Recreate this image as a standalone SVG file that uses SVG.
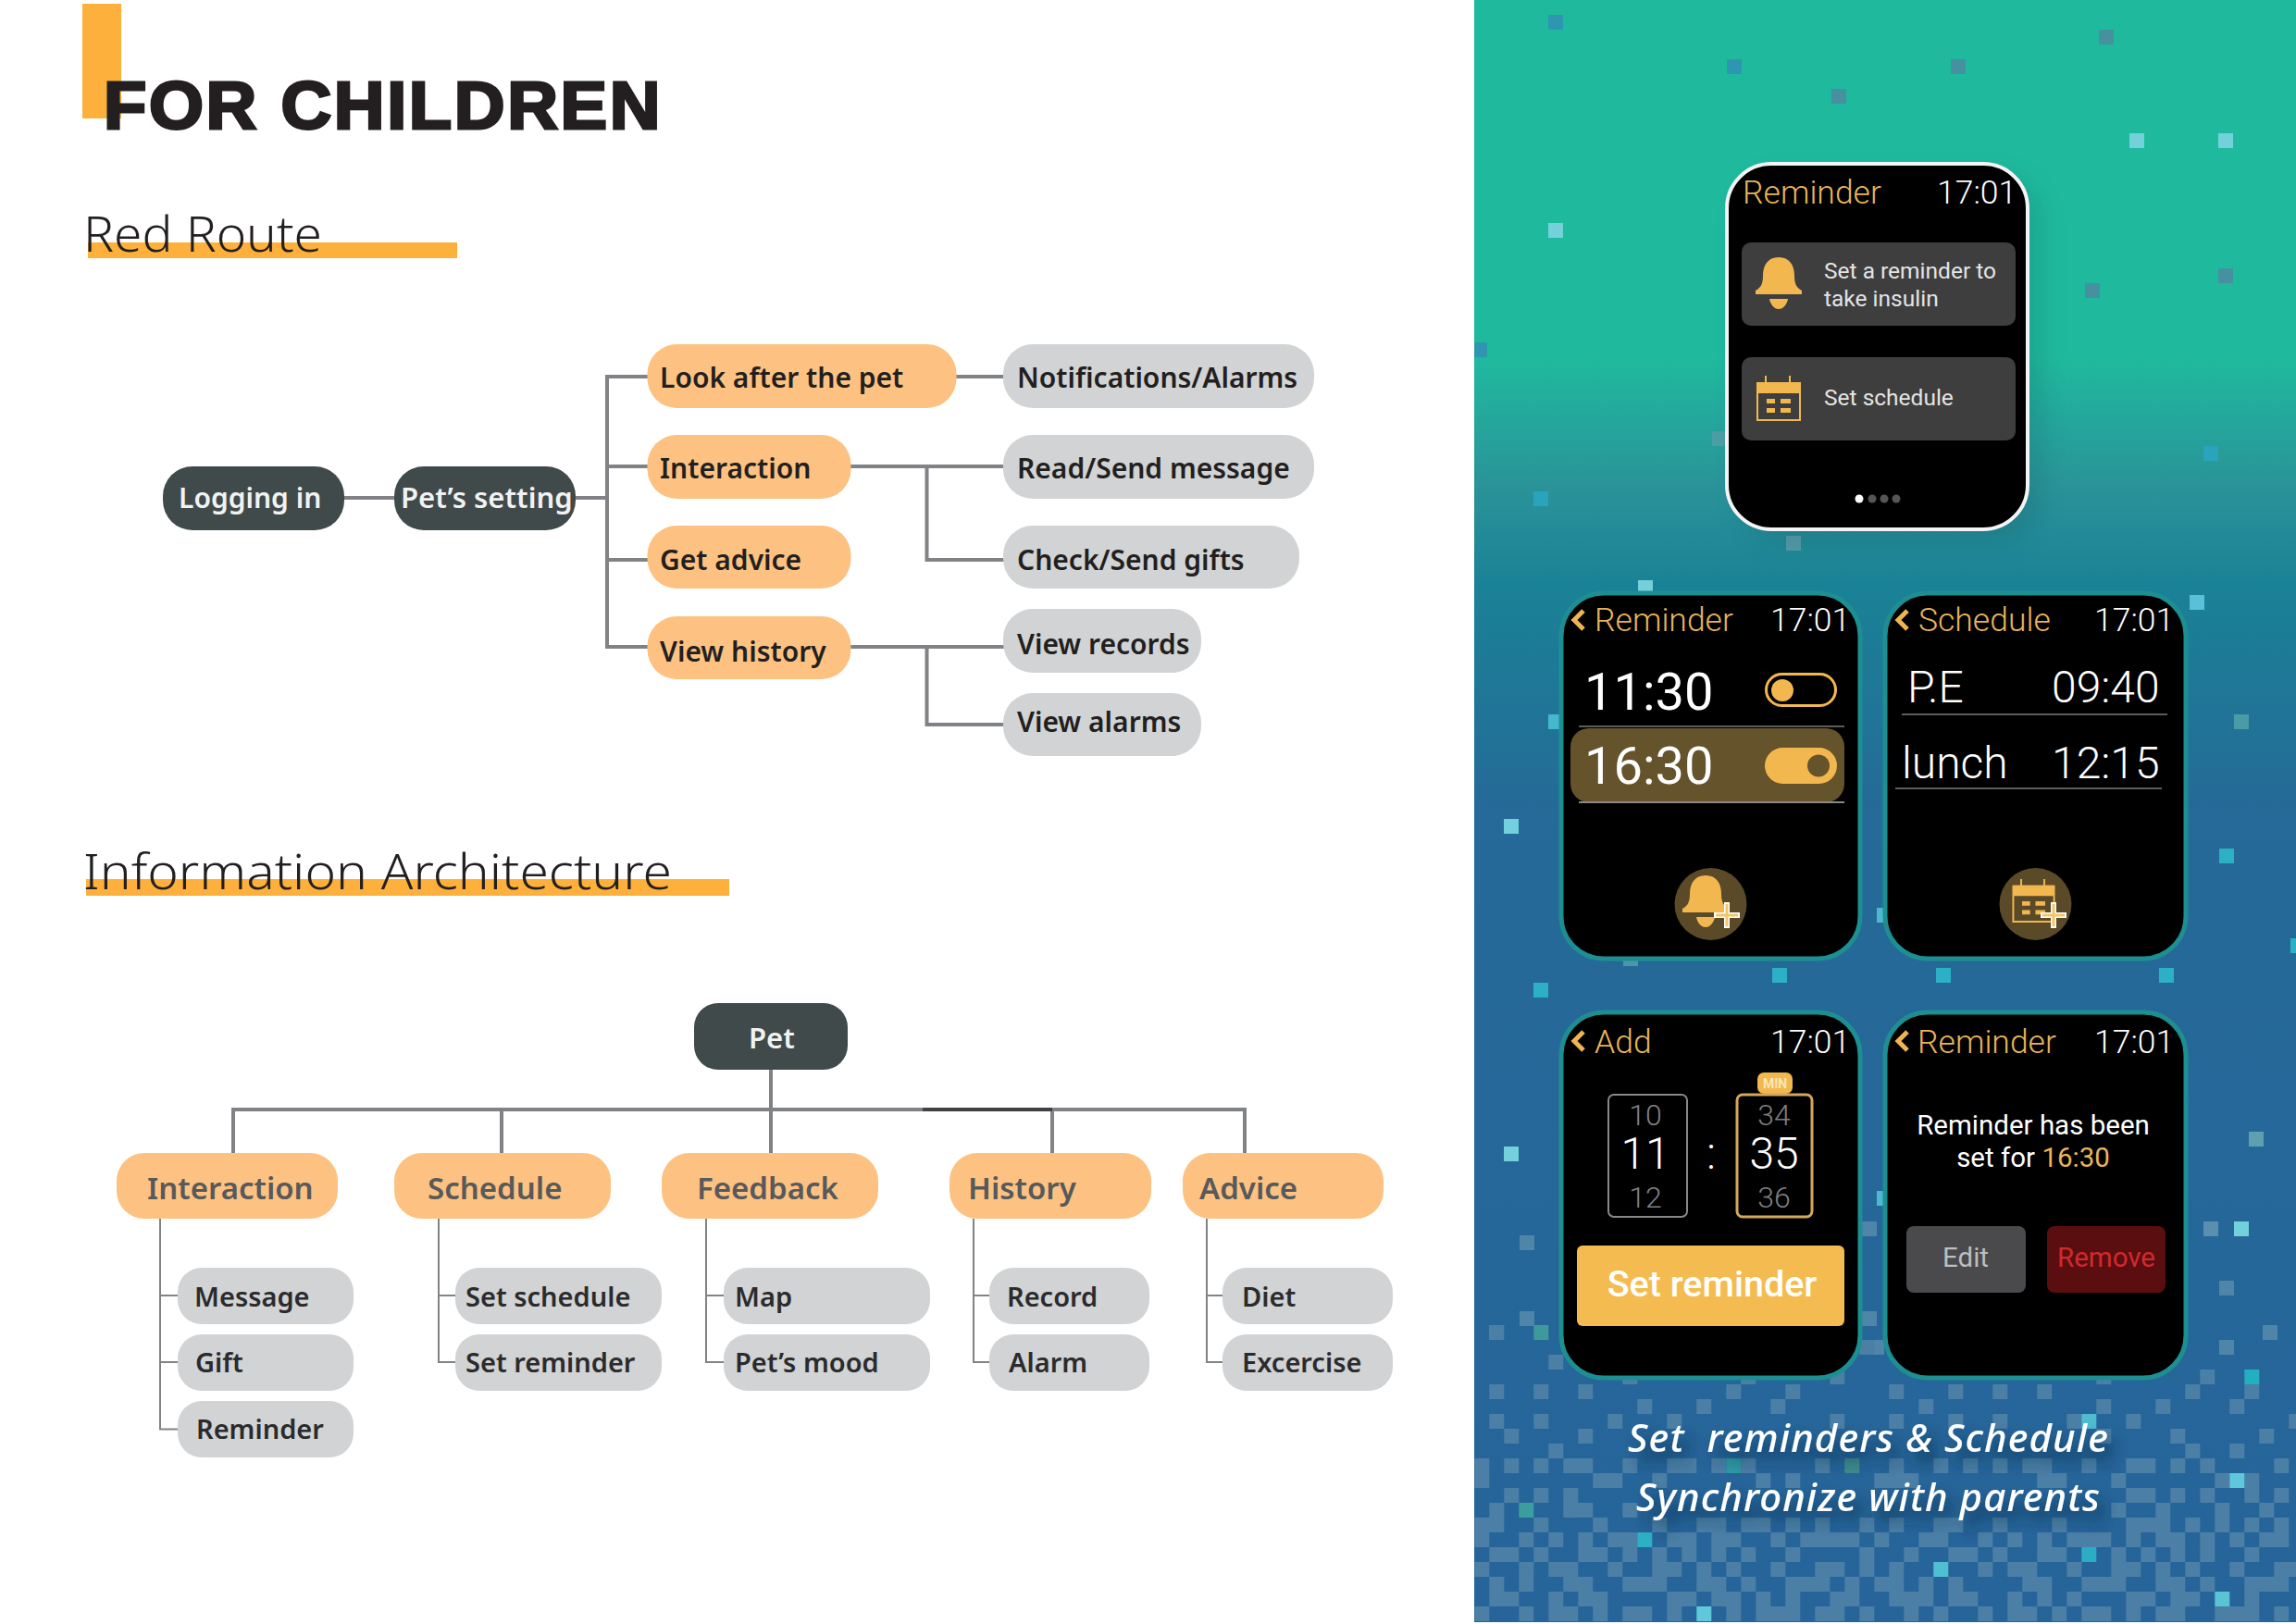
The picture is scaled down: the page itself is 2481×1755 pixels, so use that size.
<svg xmlns="http://www.w3.org/2000/svg" width="2481" height="1755" viewBox="0 0 2481 1755">
<style>
.n{font-family:"Noto Sans","Liberation Sans",sans-serif;font-weight:600;font-size:30px;fill:#231f20}
.w{fill:#f1f2f2}
.ia{font-size:33px;fill:#58595b}
.c{font-size:29px;fill:#2b2b2d}
.h{font-family:"Noto Sans","Liberation Sans",sans-serif;font-weight:300;font-size:53px;fill:#231f20}
.o{fill:#fdc281}.g{fill:#d1d3d4}.d{fill:#414a4b}
.ln{stroke:#808285;stroke-width:4;fill:none}
.tn{stroke:#808285;stroke-width:2;fill:none}
.r{font-family:Roboto,"Liberation Sans",sans-serif;font-weight:300;fill:#fff}
.t{font-size:35.500px}
.y{fill:#e8b558}
.ph{fill:#000;stroke:#1d8f92;stroke-width:5}
.cv{fill:none;stroke:#f0b552;stroke-width:5}
.sep{stroke:#5c5c5c;stroke-width:2}
.big{font-size:56px;font-weight:400}
.sch{font-size:48px}
.num{font-size:32px;fill:#808080;text-anchor:middle}
.mid{font-size:48px;text-anchor:middle}
.msg{font-size:29.500px;font-weight:400;text-anchor:middle}
.cap{font-family:"Noto Sans","Liberation Sans",sans-serif;font-style:italic;font-weight:500;font-size:42px;letter-spacing:1.100px;fill:#fff;white-space:pre}
.px{fill:none;stroke:#4b7fa6;stroke-width:1}
</style>
<defs>
<linearGradient id="bg" x1="0" y1="0" x2="0" y2="1">
<stop offset="0" stop-color="#1fba9e"/><stop offset=".22" stop-color="#1fba9e"/><stop offset=".3" stop-color="#2a9399"/><stop offset=".36" stop-color="#1a8296"/><stop offset=".5" stop-color="#256a98"/><stop offset="1" stop-color="#26649a"/>
</linearGradient>
<filter id="sh" x="-20%" y="-20%" width="150%" height="150%"><feGaussianBlur stdDeviation="14"/></filter>
<filter id="ts" x="-5%" y="-30%" width="112%" height="190%"><feDropShadow dx="8" dy="12" stdDeviation="8" flood-color="#0a2540" flood-opacity=".75"/></filter>
<symbol id="bell" viewBox="0 0 50 56"><path fill="#f2b84f" d="M25 0C13 0 8 9 8 20C8 28 6 33 0 36V40H50V36C44 33 42 28 42 20C42 9 37 0 25 0ZM15 45H35C34 51 30 56 25 56C20 56 16 51 15 45Z"/></symbol>
<symbol id="cal" viewBox="0 0 48 49"><path fill="none" stroke="#f2b84f" stroke-width="2" d="M10 0V8M36 0V8M1 8H47V48H1Z"/><path fill="#f2b84f" d="M1 7H47V19H1ZM11 25H20V30H11ZM26 25H37V30H26ZM11 35H20V40H11ZM26 35H37V40H26Z"/></symbol>
</defs>
<rect width="2481" height="1755" fill="#fff"/>
<g id="heading">
<rect x="89" y="4" width="42" height="124" fill="#fdb03c"/>
<text x="112" y="139" font-family="Liberation Sans" font-weight="700" font-size="72" letter-spacing="2.500" fill="#231f20" stroke="#231f20" stroke-width="3" textLength="604" lengthAdjust="spacingAndGlyphs">FOR CHILDREN</text>
<rect x="95" y="262" width="399" height="17" fill="#fdb03c"/>
<text class="h" x="90" y="272" textLength="258" lengthAdjust="spacingAndGlyphs">Red Route</text>
<rect x="93" y="950" width="695" height="18" fill="#fdb03c"/>
<text class="h" x="90" y="961" textLength="636" lengthAdjust="spacingAndGlyphs">Information Architecture</text>
</g>
<g id="connectors">
<path class="ln" d="M372 538H428M621 538H656M701 407H656V699H701M656 504H701M656 605H701M1033 407H1085M919 504H1085M1001.500 504V605H1085M919 699H1085M1001.500 699V783H1085"/>
<path class="ln" d="M833 1155V1246M252 1246V1199H1345V1246M542 1199V1246M1137 1199V1246"/>
<path d="M997 1199H1137" stroke="#414042" stroke-width="4"/>
<path class="tn" d="M173 1317V1544.500H193M173 1400H193M173 1472H193M474 1317V1472H494M474 1400H494M763 1317V1472H783M763 1400H783M1052 1317V1472H1071M1052 1400H1071M1304 1317V1472H1323M1304 1400H1323"/>
</g>
<g id="logging"><rect class="d" x="176" y="504" width="196" height="69" rx="32"/><text class="n w" x="193" y="549">Logging in</text></g>
<g id="petsetting"><rect class="d" x="426" y="504" width="196" height="69" rx="32"/><text class="n w" x="433" y="549" style="font-size:31px">Pet’s setting</text></g>
<g id="lookafter"><rect class="o" x="699.500" y="372" width="334" height="69" rx="32"/><text class="n" x="713" y="419">Look after the pet</text></g>
<g id="interaction"><rect class="o" x="699.500" y="470" width="220" height="69" rx="32"/><text class="n" x="713" y="517">Interaction</text></g>
<g id="getadvice"><rect class="o" x="699.500" y="568" width="220" height="68" rx="32"/><text class="n" x="713" y="616">Get advice</text></g>
<g id="viewhistory"><rect class="o" x="699.500" y="666" width="220" height="68" rx="32"/><text class="n" x="713" y="715">View history</text></g>
<g id="notifications"><rect class="g" x="1084" y="372" width="336" height="69" rx="32"/><text class="n" x="1099" y="419">Notifications/Alarms</text></g>
<g id="readsend"><rect class="g" x="1084" y="470" width="336" height="69" rx="32"/><text class="n" x="1099" y="517">Read/Send message</text></g>
<g id="checksend"><rect class="g" x="1084" y="568" width="320" height="68" rx="32"/><text class="n" x="1099" y="616">Check/Send gifts</text></g>
<g id="viewrecords"><rect class="g" x="1084" y="658" width="214" height="69" rx="32"/><text class="n" x="1099" y="707">View records</text></g>
<g id="viewalarms"><rect class="g" x="1084" y="749" width="214" height="68" rx="32"/><text class="n" x="1099" y="791">View alarms</text></g>
<g id="pet"><rect class="d" x="750" y="1084" width="166" height="72" rx="26"/><text class="n w" x="809" y="1133" style="font-size:31px">Pet</text></g>
<g id="ia-interaction"><rect class="o" x="126" y="1246" width="239" height="71" rx="30"/><text class="n ia" x="159" y="1296">Interaction</text></g>
<g id="ia-schedule"><rect class="o" x="426" y="1246" width="234" height="71" rx="30"/><text class="n ia" x="462" y="1296">Schedule</text></g>
<g id="ia-feedback"><rect class="o" x="715" y="1246" width="234" height="71" rx="30"/><text class="n ia" x="753" y="1296">Feedback</text></g>
<g id="ia-history"><rect class="o" x="1026" y="1246" width="218" height="71" rx="30"/><text class="n ia" x="1046" y="1296">History</text></g>
<g id="ia-advice"><rect class="o" x="1278" y="1246" width="217" height="71" rx="30"/><text class="n ia" x="1296" y="1296">Advice</text></g>
<g id="ia-message"><rect class="g" x="192" y="1370" width="190" height="61" rx="26"/><text class="n c" x="210" y="1412">Message</text></g>
<g id="ia-gift"><rect class="g" x="192" y="1442" width="190" height="61" rx="26"/><text class="n c" x="211" y="1483">Gift</text></g>
<g id="ia-reminder"><rect class="g" x="192" y="1514" width="190" height="61" rx="26"/><text class="n c" x="212" y="1555">Reminder</text></g>
<g id="ia-setschedule"><rect class="g" x="492" y="1370" width="223" height="61" rx="26"/><text class="n c" x="503" y="1412">Set schedule</text></g>
<g id="ia-setreminder"><rect class="g" x="492" y="1442" width="223" height="61" rx="26"/><text class="n c" x="503" y="1483">Set reminder</text></g>
<g id="ia-map"><rect class="g" x="782" y="1370" width="223" height="61" rx="26"/><text class="n c" x="794" y="1412">Map</text></g>
<g id="ia-mood"><rect class="g" x="782" y="1442" width="223" height="61" rx="26"/><text class="n c" x="794" y="1483">Pet’s mood</text></g>
<g id="ia-record"><rect class="g" x="1069" y="1370" width="173" height="61" rx="26"/><text class="n c" x="1088" y="1412">Record</text></g>
<g id="ia-alarm"><rect class="g" x="1069" y="1442" width="173" height="61" rx="26"/><text class="n c" x="1090" y="1483">Alarm</text></g>
<g id="ia-diet"><rect class="g" x="1321" y="1370" width="184" height="61" rx="26"/><text class="n c" x="1342" y="1412">Diet</text></g>
<g id="ia-excercise"><rect class="g" x="1321" y="1442" width="184" height="61" rx="26"/><text class="n c" x="1342" y="1483">Excercise</text></g>
<g id="panel">
<rect x="1593" y="0" width="888" height="1753" fill="url(#bg)"/>
<g fill="#2e96b0"><rect x="1673" y="16" width="16" height="16"/><rect x="1866" y="64" width="16" height="16"/><rect x="1593" y="370" width="14" height="16"/><rect x="1657" y="531" width="16" height="16" fill="#2aa4bc"/><rect x="2381" y="482" width="16" height="16" fill="#2aa4bc"/></g>
<g fill="#46909f"><rect x="2108" y="64" width="16" height="16"/><rect x="2268" y="32" width="16" height="16"/><rect x="1979" y="96" width="16" height="16"/><rect x="2397" y="290" width="16" height="16"/><rect x="2253" y="306" width="16" height="16"/><rect x="1850" y="466" width="16" height="16" fill="#4c9ea5"/><rect x="1930" y="579" width="16" height="16" fill="#569aa8"/><rect x="1754" y="1032" width="16" height="12" fill="#4f94a8"/><rect x="2414" y="772" width="16" height="16" fill="#4a9aa8"/></g>
<g fill="#74d0da"><rect x="2301" y="144" width="16" height="16"/><rect x="2397" y="144" width="16" height="16"/><rect x="1673" y="241" width="16" height="16"/><rect x="1770" y="627" width="16" height="16"/><rect x="2366" y="643" width="16" height="16" fill="#58c0d8"/><rect x="1673" y="772" width="16" height="16" fill="#45b8cc"/><rect x="1625" y="885" width="16" height="16"/><rect x="1625" y="1239" width="16" height="16"/><rect x="2414" y="1320" width="16" height="16"/><rect x="2028" y="981" width="10" height="16" fill="#4fb8d0"/><rect x="2028" y="1287" width="10" height="16" fill="#4fb8d0"/></g>
<g fill="#2cb0c4"><rect x="2398" y="917" width="16" height="16"/><rect x="2475" y="1014" width="6" height="16"/><rect x="1657" y="1062" width="16" height="16"/><rect x="1915" y="1046" width="16" height="16"/><rect x="2092" y="1046" width="16" height="16"/><rect x="2333" y="1046" width="16" height="16"/></g>
<g fill="#4f85a8"><rect x="2430" y="1223" width="16" height="16" fill="#5f9fb0"/><rect x="1642" y="1335" width="16" height="16"/><rect x="2381" y="1320" width="16" height="16" fill="#5a8fb0"/><rect x="2012" y="1320" width="16" height="16"/><rect x="2398" y="1384" width="16" height="16"/><rect x="1642" y="1417" width="16" height="16"/><rect x="1609" y="1432" width="16" height="16"/><rect x="2012" y="1417" width="16" height="16"/><rect x="2445" y="1432" width="16" height="16"/><rect x="2012" y="1448" width="24" height="16"/><rect x="2398" y="1448" width="16" height="16"/></g>
<g transform="translate(1593.300,1448) scale(16)">
<path class="px" d="M1 -.5h1M5 1.500h1M26 .5h1M10 2.500h1M18 2.500h1M24 2.500h1M42 2.500h1M49 2.500h1
M1 3.500h1M4 3.500h1M7 3.500h1M17 3.500h1M21 3.500h1M28 3.500h1M32 3.500h1M35 3.500h1M38 3.500h1M48 3.500h1M52 3.500h1
M11 4.500h1M15 4.500h1M20 4.500h1M30 4.500h1M42 4.500h1M46 4.500h1M51 4.500h1
M1 5.500h1M4 5.500h1M9 5.500h1M13 5.500h1M24 5.500h1M28 5.500h1M32 5.500h1M35 5.500h1M40 5.500h1M44 5.500h1M55 5.500h1
M2 6.500h1M7 6.500h1M42 6.500h1M47 6.500h1M53 6.500h1
M5 7.500h1M48 7.500h1M51 7.500h1
M0 8.500h1M2 8.500h1M4 8.500h1M6 8.500h2M10 8.500h1M13 8.500h2M16 8.500h1M18 8.500h1M23 8.500h1M28 8.500h1M31 8.500h1M33 8.500h1M35 8.500h1M37 8.500h2M41 8.500h1M44 8.500h2M47 8.500h1M49 8.500h1M54 8.500h1
M0 9.500h1M8 9.500h2M12 9.500h1M19 9.500h1M21 9.500h1M27 9.500h3M38 9.500h2M43 9.500h1M50 9.500h1M52 9.500h1
M2 10.500h1M4 10.500h1M6 10.500h1M44 10.500h2M47 10.500h1M49 10.500h1M52 10.500h1M54 10.500h1
M1 11.500h1M6 11.500h2M10 11.500h1M43 11.500h1M46 11.500h1M50 11.500h1M53 11.500h1
M0 12.500h2M4 12.500h1M8 12.500h1M12 12.500h1M15 12.500h2M18 12.500h2M21 12.500h1M23 12.500h1M26 12.500h1M28 12.500h1M31 12.500h2M35 12.500h1M39 12.500h1M44 12.500h2M46 12.500h1M48 12.500h1M50 12.500h1M52 12.500h1M54 12.500h1
M0 13.500h1M3 13.500h1M5 13.500h1M7 13.500h1M9 13.500h2M13 13.500h2M16 13.500h2M20 13.500h1M22 13.500h4M27 13.500h1M30 13.500h2M34 13.500h1M36 13.500h1M38 13.500h1M40 13.500h3M44 13.500h1M46 13.500h2M49 13.500h1M51 13.500h1M53 13.500h2
M1 14.500h2M4 14.500h1M7 14.500h2M10 14.500h1M12 14.500h1M14 14.500h1M16 14.500h1M18 14.500h1M21 14.500h1M26 14.500h1M29 14.500h1M32 14.500h2M35 14.500h1M38 14.500h2M43 14.500h1M45 14.500h1M47 14.500h1M49 14.500h1M52 14.500h1
M0 15.500h1M3 15.500h1M5 15.500h2M9 15.500h1M12 15.500h2M15 15.500h1M17 15.500h1M20 15.500h1M23 15.500h2M26 15.500h1M28 15.500h1M34 15.500h1M36 15.500h2M40 15.500h1M43 15.500h2M46 15.500h1M48 15.500h1M51 15.500h1M54 15.500h2
M1 16.500h1M3 16.500h1M6 16.500h2M10 16.500h3M15 16.500h2M18 16.500h1M21 16.500h3M25 16.500h1M27 16.500h2M30 16.500h1M32 16.500h1M37 16.500h2M41 16.500h3M46 16.500h2M49 16.500h1M52 16.500h3
M1 17.500h2M5 17.500h1M7 17.500h2M13 17.500h2M16 17.500h2M19 17.500h1M21 17.500h1M24 17.500h2M28 17.500h3M32 17.500h2M36 17.500h1M38 17.500h1M40 17.500h1M44 17.500h2M47 17.500h2M52 17.500h1
M0 18.500h1M3 18.500h1M5 18.500h2M8 18.500h1M10 18.500h2M13 18.500h1M17 18.500h1M19 18.500h3M23 18.500h2M26 18.500h1M29 18.500h1M31 18.500h1M34 18.500h1M36 18.500h2M39 18.500h1M41 18.500h2M44 18.500h1M46 18.500h2M50 18.500h3M54 18.500h1"/>
<g><rect x="4" y="-1" width="1" height="1" fill="#3e9a9a"/><rect x="52" y="2" width="1" height="1" fill="#22b0c0"/><rect x="17" y="8" width="1" height="1" fill="#2e9aa5"/><rect x="25" y="8" width="1" height="1" fill="#3f8c8c"/><rect x="3" y="11" width="1" height="1" fill="#3a9e9e"/><rect x="11" y="13" width="1" height="1" fill="#2eb0c4"/><rect x="15" y="18" width="1" height="1" fill="#5fc8da"/><rect x="41" y="5" width="1" height="1" fill="#4fbcd0"/><rect x="51" y="9" width="1" height="1" fill="#5ec8da"/><rect x="41" y="14" width="1" height="1" fill="#2aaec4"/><rect x="31" y="15" width="1" height="1" fill="#4fc0d4"/><rect x="50" y="17" width="1" height="1" fill="#58c4d4"/></g>
</g>
<rect x="1880" y="190" width="325" height="395" rx="48" fill="#0a4a50" opacity=".2" filter="url(#sh)"/>
</g>
<g id="phone-menu">
<rect x="1866" y="177" width="325" height="395" rx="48" fill="#000" stroke="#f4f4f4" stroke-width="4"/>
<text class="r t y" x="1883" y="220">Reminder</text><text class="r t" x="2093" y="220">17:01</text>
<rect x="1882" y="262" width="296" height="90" rx="10" fill="#3e3e3e"/>
<rect x="1882" y="386" width="296" height="90" rx="10" fill="#3e3e3e"/>
<use href="#bell" x="1897" y="278" width="50" height="56"/>
<use href="#cal" x="1898" y="406" width="48" height="49"/>
<g class="r" font-size="24.500" style="font-weight:400;fill:#e4e4e4"><text x="1971" y="301">Set a reminder to</text><text x="1971" y="331">take insulin</text><text x="1971" y="438">Set schedule</text></g>
<circle cx="2009" cy="539" r="4.500" fill="#fff"/><circle cx="2023" cy="539" r="4.500" fill="#555"/><circle cx="2036" cy="539" r="4.500" fill="#555"/><circle cx="2049" cy="539" r="4.500" fill="#555"/>
</g>
<g id="phone-reminders">
<rect class="ph" x="1687" y="641" width="323" height="395" rx="46"/>
<path class="cv" d="M1711 660L1701 670L1711 680"/>
<text class="r t y" x="1723" y="682">Reminder</text><text class="r t" x="1913" y="682">17:01</text>
<text class="r big" x="1712" y="767">11:30</text>
<rect x="1908.500" y="728.500" width="75" height="34" rx="17" fill="none" stroke="#f2b84f" stroke-width="3"/><circle cx="1926" cy="746" r="12" fill="#f2b84f"/>
<path class="sep" d="M1706 785H1993"/>
<rect x="1697" y="787" width="296" height="80" rx="20" fill="#65532b"/>
<path d="M1706 867H1993" stroke="#888" stroke-width="2"/>
<text class="r big" x="1712" y="847">16:30</text>
<rect x="1907" y="808" width="78" height="39" rx="19.500" fill="#f2b84f"/><circle cx="1965" cy="827.500" r="12" fill="#65532b"/>
<circle cx="1848.500" cy="977" r="39" fill="#5a4a28"/>
<use href="#bell" x="1817" y="946" width="52" height="56"/>
<path d="M1866 975V1003M1852 989H1880" stroke="#fff" stroke-width="6"/><path d="M1866 977V1001M1854 989H1878" stroke="#f2c66a" stroke-width="3"/>
</g>
<g id="phone-schedule">
<rect class="ph" x="2037" y="641" width="325" height="395" rx="46"/>
<path class="cv" d="M2061 660L2051 670L2061 680"/>
<text class="r t y" x="2073" y="682">Schedule</text><text class="r t" x="2263" y="682">17:01</text>
<text class="r sch" x="2061" y="759">P.E</text><text class="r sch" x="2217" y="759">09:40</text>
<path class="sep" d="M2055 772H2342M2048 852H2336"/>
<text class="r sch" x="2055" y="841">lunch</text><text class="r sch" x="2217" y="841">12:15</text>
<circle cx="2199.500" cy="977" r="39" fill="#5a4a28"/>
<use href="#cal" x="2173" y="950" width="49" height="47"/>
<path d="M2219 975V1003M2205 989H2233" stroke="#fff" stroke-width="6"/><path d="M2219 977V1001M2207 989H2231" stroke="#f2c66a" stroke-width="3"/>
</g>
<g id="phone-add">
<rect class="ph" x="1687" y="1094" width="323" height="395" rx="46"/>
<path class="cv" d="M1711 1115L1701 1125L1711 1135"/>
<text class="r t y" x="1723" y="1138">Add</text><text class="r t" x="1913" y="1138">17:01</text>
<rect x="1899" y="1159" width="38" height="23" rx="7" fill="#f2b84f"/>
<text x="1918" y="1176" text-anchor="middle" font-family="Roboto,sans-serif" font-weight="700" font-size="14" fill="#fbe6b8">MIN</text>
<rect x="1738" y="1183" width="85" height="132" rx="6" fill="none" stroke="#888" stroke-width="2"/>
<rect x="1877" y="1183" width="81" height="132" rx="6" fill="none" stroke="#d4a85a" stroke-width="3"/>
<text class="r num" x="1778" y="1216">10</text><text class="r mid" x="1778" y="1263">11</text><text class="r num" x="1778" y="1305">12</text>
<text class="r mid" x="1849" y="1263">:</text>
<text class="r num" x="1917" y="1216">34</text><text class="r mid" x="1917" y="1263">35</text><text class="r num" x="1917" y="1305">36</text>
<rect x="1704" y="1346" width="289" height="87" rx="6" fill="#f4bc50"/>
<text x="1850" y="1401" text-anchor="middle" font-family="Roboto,sans-serif" font-weight="500" font-size="39.500" fill="#fff">Set reminder</text>
</g>
<g id="phone-confirm">
<rect class="ph" x="2037" y="1094" width="325" height="395" rx="46"/>
<path class="cv" d="M2061 1115L2051 1125L2061 1135"/>
<text class="r t y" x="2072" y="1138">Reminder</text><text class="r t" x="2263" y="1138">17:01</text>
<text class="r msg" x="2197" y="1226">Reminder has been</text>
<text class="r msg" x="2197" y="1261">set for <tspan class="y">16:30</tspan></text>
<rect x="2060" y="1325" width="129" height="72" rx="8" fill="#4a4a4c"/>
<text class="r" x="2124" y="1369" text-anchor="middle" font-size="29.500" style="font-weight:400;fill:#bcbec0">Edit</text>
<rect x="2212" y="1325" width="128" height="72" rx="8" fill="#5a0e10"/>
<text class="r" x="2276" y="1369" text-anchor="middle" font-size="29.500" style="font-weight:400;fill:#cf2a2e">Remove</text>
</g>
<g id="caption" filter="url(#ts)">
<text class="cap" x="1759" y="1569">Set  reminders &amp; Schedule</text>
<text class="cap" x="1768" y="1633">Synchronize with parents</text>
</g>
</svg>
